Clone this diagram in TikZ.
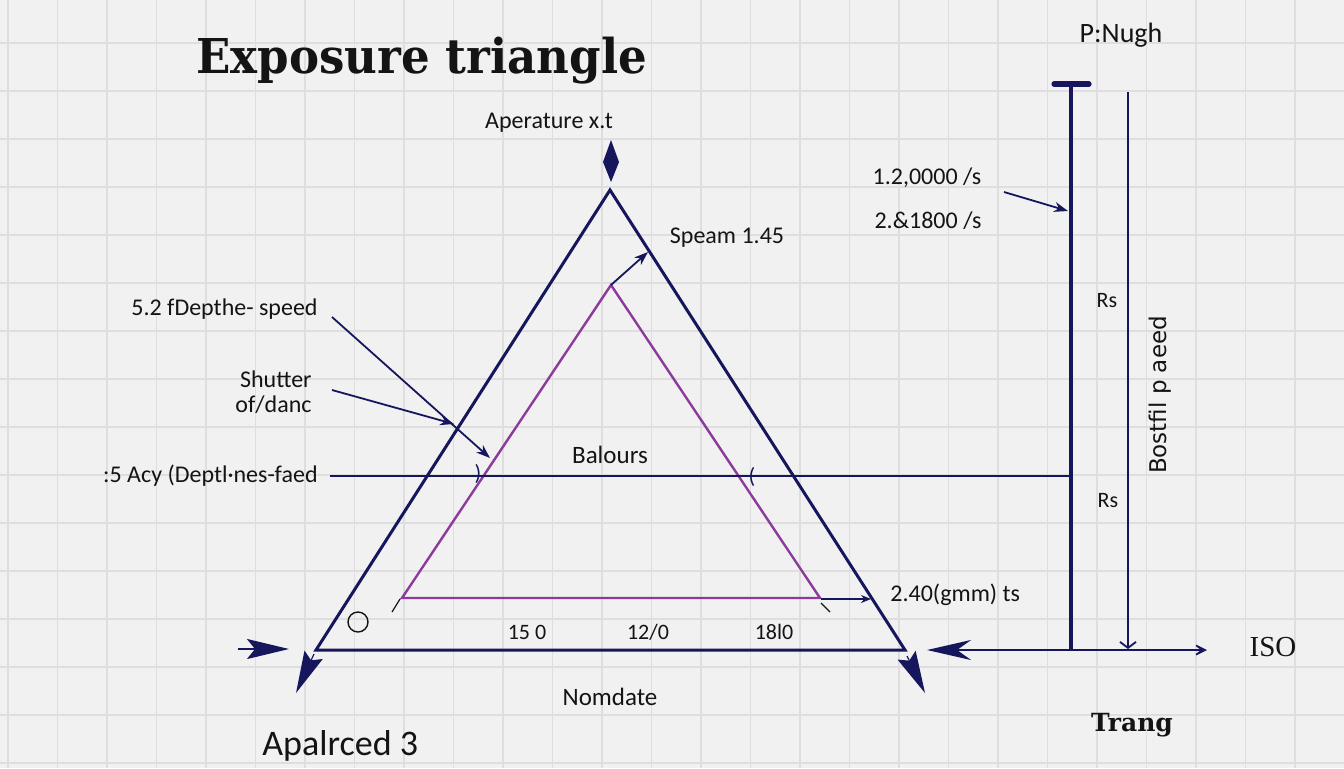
\documentclass[tikz,border=0pt]{standalone}
\usepackage{fontspec}
\setmainfont{Carlito}
\newfontfamily\titlefont{DejaVu Serif}
\newfontfamily\isofont{Liberation Serif}
\newfontfamily\rotfont{DejaVu Sans}
\usetikzlibrary{arrows.meta}
\definecolor{navy}{HTML}{16165C}
\definecolor{plum}{HTML}{8C3A9E}
\definecolor{bgc}{HTML}{F1F1F1}
\definecolor{gridc}{HTML}{DEDEDE}
\definecolor{ink}{HTML}{141414}
\begin{document}
\begin{tikzpicture}[x=0.5pt,y=-0.5pt,
  lbl/.style={text=ink,inner sep=0pt,font=\fontsize{12pt}{13pt}\selectfont},
  lblsm/.style={text=ink,inner sep=0pt,font=\fontsize{11pt}{12pt}\selectfont},
  outer/.style={draw=navy,line width=1.5pt,line join=miter},
  inner/.style={draw=plum,line width=1.2pt,line join=miter},
  thinarrow/.style={draw=navy,line width=0.9pt,-{Stealth[length=7pt,width=5pt]}},
]
\useasboundingbox (0,0) rectangle (1344,768);
\fill[bgc] (0,0) rectangle (1344,768);
\foreach \gx in {8,57.5,...,1344} \draw[gridc,line width=0.6pt] (\gx,0) -- (\gx,768);
\foreach \gy in {43,91,...,768} \draw[gridc,line width=0.6pt] (0,\gy) -- (1344,\gy);

% title
\node[inner sep=0pt,text=ink,font=\titlefont\bfseries\fontsize{24pt}{28pt}\selectfont,xscale=0.94,anchor=base west] (title) at (196,73) {Exposure triangle};

% triangles
\coordinate (A) at (610,190);
\coordinate (BL) at (316,650);
\coordinate (BR) at (905,650);
\coordinate (a) at (611,285);
\coordinate (bl) at (402,598);
\coordinate (br) at (820,598);
\draw[outer] (A) -- (BL) -- (BR) -- cycle;
\draw[inner] (a) -- (bl) -- (br) -- cycle;

% top diamond
\coordinate (dT) at (611,140);
\coordinate (dR) at (619,162);
\coordinate (dB) at (611,182);
\coordinate (dL) at (603,162);
\fill[navy] (dT) -- (dR) -- (dB) -- (dL) -- cycle;
\node[lbl] (aper) at (549,123) {Aperature x.t};

% apex arrow
\coordinate (spT) at (648,252);
\draw[thinarrow] (a) -- (spT);
\node[lbl] (speam) at (727,238) {Speam 1.45};

% left annotations
\node[lbl,anchor=east] (dep1) at (318,309) {5.2 fDepthe- speed};
\node[lbl,anchor=east,align=right,font=\fontsize{12pt}{12.5pt}\selectfont] (shut) at (312,392) {Shutter\\of/danc};
\node[lbl,anchor=east] (dep2) at (318,476) {:5 Acy (Deptl·nes-faed};
\coordinate (d1s) at (332,317);
\coordinate (d1e) at (490,458);
\coordinate (s1s) at (332,390);
\coordinate (s1e) at (454,424);
\draw[thinarrow] (d1s) -- (d1e);
\draw[thinarrow] (s1s) -- (s1e);

% horizontal line
\coordinate (hl) at (330,476);
\coordinate (hr) at (1071,476);
\draw[navy,line width=0.9pt] (hl) -- (hr);
\node[text=navy,inner sep=0pt,font=\fontsize{11pt}{12pt}\selectfont] (brk1) at (478,474) {)};
\node[text=navy,inner sep=0pt,font=\fontsize{11pt}{12pt}\selectfont] (brk2) at (752,477) {(};
\node[lbl,font=\fontsize{12.5pt}{14pt}\selectfont] (bal) at (610,455) {Balours};

% base details
\coordinate (t1a) at (400,599);
\coordinate (t1b) at (392,612);
\coordinate (t2a) at (821,603);
\coordinate (t2b) at (830,612);
\draw[ink,line width=0.6pt] (t1a) -- (t1b);
\draw[ink,line width=0.6pt] (t2a) -- (t2b);
\coordinate (pbs) at (821,599);
\coordinate (pbe) at (871,599);
\draw[draw=navy,line width=0.8pt,-{Stealth[length=5pt,width=4pt]}] (pbs) -- (pbe);
\node[lbl,anchor=west] (gmm) at (890,595) {2.40(gmm) ts};
\node[draw=ink,circle,line width=0.7pt,minimum size=10pt,inner sep=0pt] (circ) at (358,622) {};
\node[lblsm] (n1) at (527,632) {15 0};
\node[lblsm] (n2) at (648,632) {12/0};
\node[lblsm] (n3) at (774,632) {18l0};
\node[lbl,font=\fontsize{12.5pt}{14pt}\selectfont] (nom) at (610,697) {Nomdate};
\node[text=ink,inner sep=0pt,font=\fontsize{18pt}{20pt}\selectfont,anchor=west] (apal) at (262,746) {Apalrced 3};

% corner arrowheads
\coordinate (lh1) at (238,649);
\coordinate (lh2) at (289,649);
\draw[navy,line width=1.2pt,-{Stealth[length=21pt,width=10pt,inset=4pt]}] (lh1) -- (lh2);
\coordinate (ld1) at (314,654);
\coordinate (ld2) at (296,693);
\draw[navy,line width=0.6pt,-{Stealth[length=21pt,width=10pt,inset=3pt]}] (ld1) -- (ld2);
\coordinate (rd1) at (907,656);
\coordinate (rd2) at (925,693);
\draw[navy,line width=0.6pt,-{Stealth[length=21pt,width=10pt,inset=3pt]}] (rd1) -- (rd2);

% right axis
\coordinate (v1t) at (1071,84);
\coordinate (v1b) at (1071,650);
\coordinate (capL) at (1054,84);
\coordinate (capR) at (1089,84);
\draw[navy,line width=1.8pt] (v1t) -- (v1b);
\draw[navy,line width=2.6pt,line cap=round] (capL) -- (capR);
\coordinate (v2t) at (1128,92);
\coordinate (v2b) at (1128,649);
\draw[navy,line width=0.9pt,-{Straight Barb[length=3pt,width=8pt]}] (v2t) -- (v2b);
\coordinate (isoL) at (927,650);
\coordinate (isoR) at (1207,650);
\draw[navy,line width=1.4pt,{Stealth[length=22pt,width=10pt,inset=7pt]}-{Stealth[length=9pt,width=9pt,inset=6pt]}] (isoL) -- (isoR);
\node[text=ink,inner sep=0pt,font=\isofont\fontsize{14.5pt}{16pt}\selectfont] (iso) at (1273,647) {ISO};
\node[text=ink,inner sep=0pt,font=\titlefont\bfseries\fontsize{12.5pt}{14pt}\selectfont] (trang) at (1132,725) {Trang};
\node[text=ink,inner sep=0pt,font=\fontsize{14pt}{16pt}\selectfont] (pnugh) at (1121,35) {P:Nugh};
\node[lbl] (s1) at (927,178) {1.2,0000 /s};
\node[lbl] (s2) at (928,221) {2.\&1800 /s};
\coordinate (sa1) at (1004,192);
\coordinate (sa2) at (1068,211);
\draw[thinarrow] (sa1) -- (sa2);
\node[lbl,font=\fontsize{11pt}{12pt}\selectfont] (rs1) at (1107,301) {Rs};
\node[lbl,font=\fontsize{11pt}{12pt}\selectfont] (rs2) at (1108,501) {Rs};
\node[text=ink,inner sep=0pt,rotate=90,font=\rotfont\fontsize{11.5pt}{13pt}\selectfont] (bost) at (1160,395) {Bostfil p aeed};
\end{tikzpicture}
\end{document}
